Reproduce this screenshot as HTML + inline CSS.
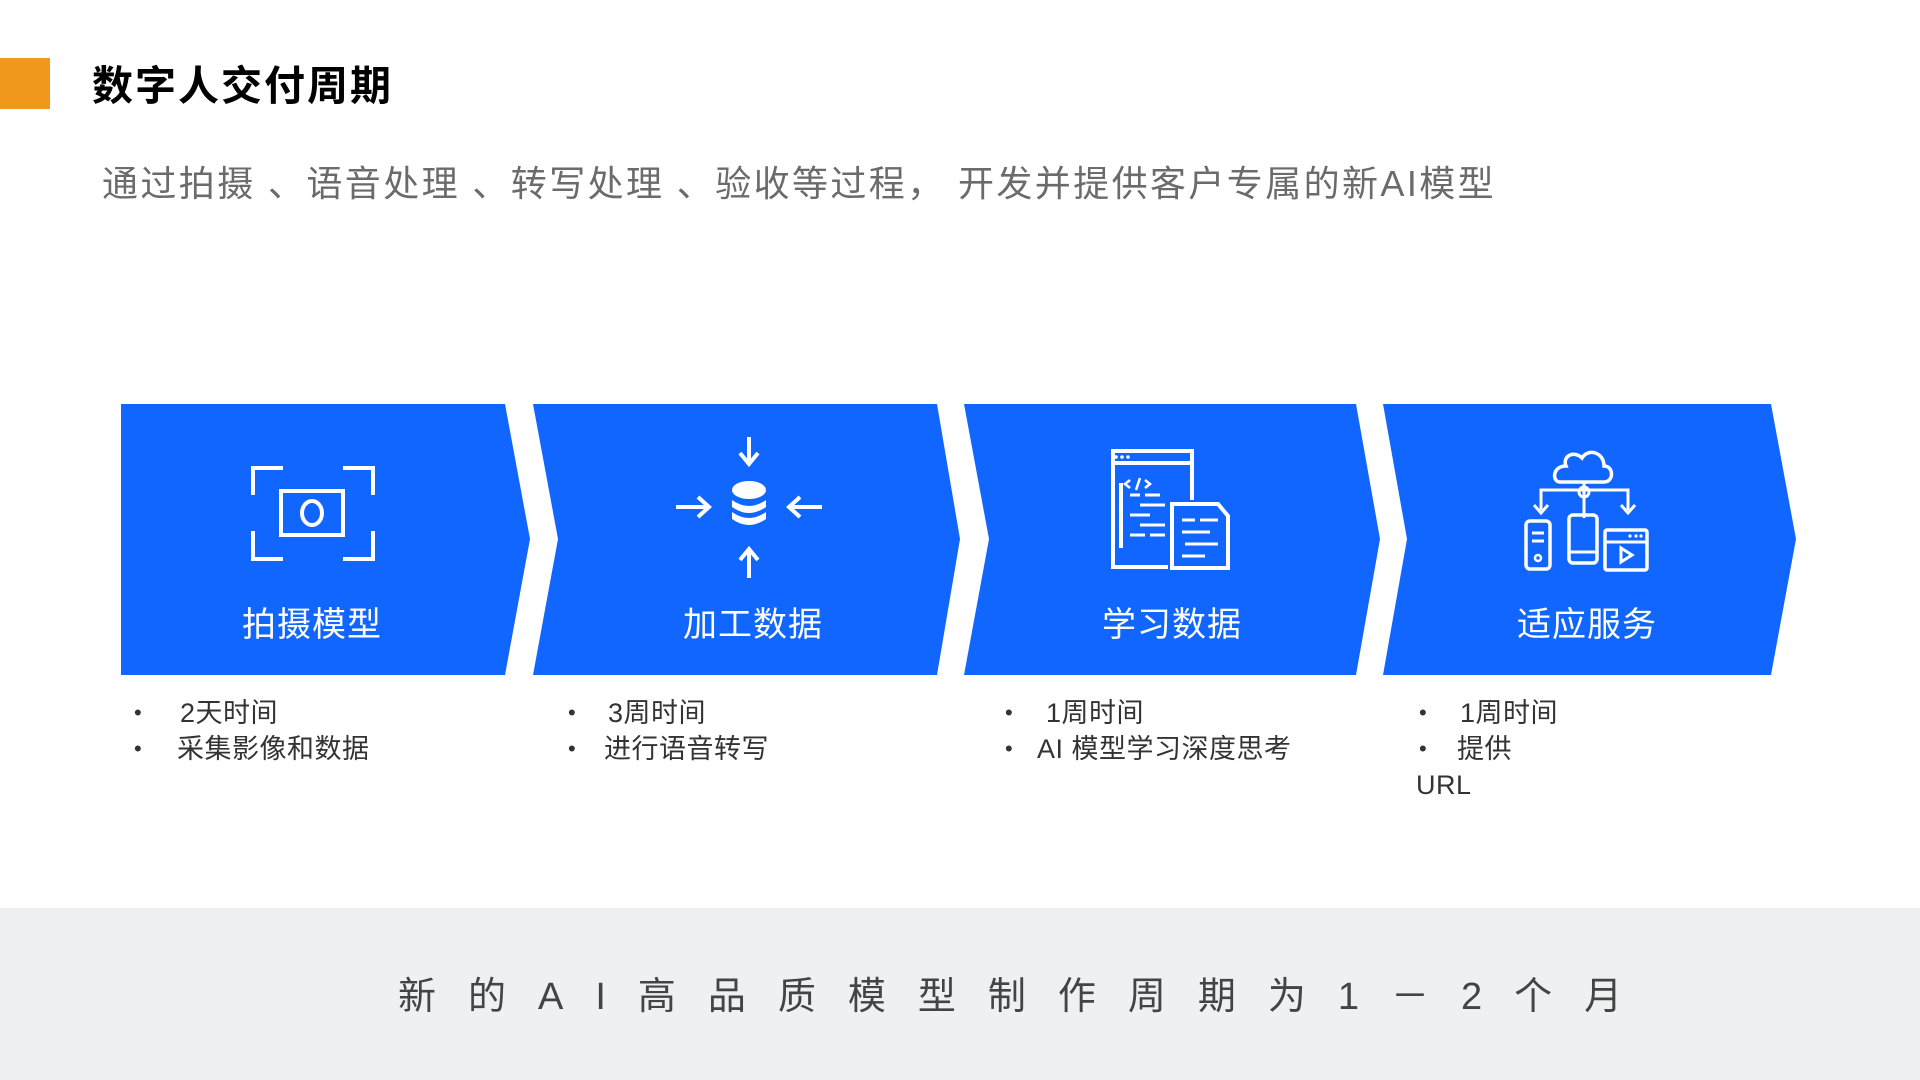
<!DOCTYPE html>
<html><head><meta charset="utf-8"><style>
*{margin:0;padding:0}
body{width:1920px;height:1080px;position:relative;background:#fff;overflow:hidden;font-family:"Liberation Sans","Noto Sans CJK SC",sans-serif}
.a{position:absolute;white-space:nowrap}
.lab{position:absolute;color:#fff;font-size:34px;top:597px;transform:translateX(-50%);letter-spacing:1px}
.li{position:absolute;font-size:27px;color:#333;line-height:35px;letter-spacing:0.5px}
.bul{position:absolute;font-size:22px;color:#333}
</style></head><body>
<div class="a" style="left:0;top:58px;width:50px;height:51px;background:#F0981C"></div>
<div class="a" style="left:92px;top:52px;font-size:41px;font-weight:bold;color:#000;letter-spacing:2px">数字人交付周期</div>
<div class="a" style="left:102px;top:155px;font-size:36px;color:#6b6b6b;letter-spacing:2.4px">通过拍摄 、语音处理 、转写处理 、验收等过程， 开发并提供客户专属的新AI模型</div>

<svg class="a" style="left:0;top:0" width="1920" height="1080">
<g fill="#1166FF">
<polygon points="121,404 505,404 530,539 505,675 121,675"/>
<polygon points="533,404 937,404 960,539 937,675 533,675 558,539"/>
<polygon points="964,404 1356,404 1380,539 1356,675 964,675 989,539"/>
<polygon points="1383,404 1771,404 1796,539 1771,675 1383,675 1407,539"/>
</g>
<g fill="none" stroke="#fff" stroke-width="4">
<path d="M253,495 V468 H283 M343,468 H373 V495 M253,531 V559 H283 M343,559 H373 V531"/>
<rect x="281" y="491" width="62" height="44"/>
<ellipse cx="312" cy="513" rx="10" ry="12"/>
<path d="M749,437 V463 M740,453 L749,464 L758,453"/>
<path d="M749,578 V550 M740,560 L749,549 L758,560"/>
<path d="M676,507 H708 M698,497 L709,507 L698,517"/>
<path d="M822,507 H790 M800,497 L789,507 L800,517"/>
<path d="M1168,567 H1113 V451 H1192 V500"/>
<path d="M1111,463 H1192 M1121,483 V548"/>
<path d="M1172,504 H1218 L1228,516 V568 H1172 Z"/>
<path d="M1130,495 H1140 M1145,495 H1160 M1140,505 H1165 M1130,515 H1150 M1140,525 H1165 M1130,535 H1145 M1150,535 H1165 M1182,520 H1195 M1200,520 H1218 M1182,532 H1210 M1185,544 H1218 M1182,556 H1205" stroke-width="3"/>
<path d="M1130,480 l-5,4 l5,4 M1140,478 l-4,12 M1145,480 l5,4 l-5,4" stroke-width="2.5"/>
<path d="M1560,482 H1604 C1614,482 1614,466 1604,466 C1604,452 1588,448 1582,458 C1574,450 1562,456 1566,466 C1552,466 1552,482 1560,482 Z" stroke-width="3.5"/>
<path d="M1584,482 V518 M1541,510 V490 H1628 V510 M1534,505 l7,8 l7,-8 M1621,505 l7,8 l7,-8" stroke-width="3"/>
<circle cx="1584" cy="492" r="5" stroke-width="3"/>
<rect x="1526" y="521" width="24" height="48" rx="4" stroke-width="3.5"/>
<rect x="1569" y="515" width="28" height="48" rx="4" stroke-width="3.5"/>
<rect x="1605" y="530" width="42" height="40" rx="2" stroke-width="3.5"/>
<path d="M1532,533 H1544 M1532,541 H1544 M1605,542 H1647 M1569,552 H1597" stroke-width="3"/>
<circle cx="1538" cy="558" r="3" stroke-width="2.5"/>
<path d="M1621,548 L1632,555 L1621,562 Z" stroke-width="3"/>
</g>
<g fill="#fff">
<ellipse cx="749" cy="490" rx="17" ry="9"/>
<path d="M732,500 Q749,512 766,500 V507 Q749,519 732,507 Z"/>
<path d="M732,512 Q749,524 766,512 V519 Q749,531 732,519 Z"/>
<circle cx="1116" cy="457" r="1.8"/><circle cx="1122" cy="457" r="1.8"/><circle cx="1128" cy="457" r="1.8"/>
<circle cx="1630" cy="536" r="1.6"/><circle cx="1636" cy="536" r="1.6"/><circle cx="1641" cy="536" r="1.6"/>
</g>
</svg>

<div class="lab" style="left:312px">拍摄模型</div>
<div class="lab" style="left:753px">加工数据</div>
<div class="lab" style="left:1172px">学习数据</div>
<div class="lab" style="left:1587px">适应服务</div>

<div class="bul" style="left:134px;top:700px">•</div><div class="bul" style="left:134px;top:736px">•</div>
<div class="li" style="left:180px;top:696px">2天时间</div>
<div class="li" style="left:177px;top:732px">采集影像和数据</div>

<div class="bul" style="left:568px;top:700px">•</div><div class="bul" style="left:568px;top:736px">•</div>
<div class="li" style="left:608px;top:696px">3周时间</div>
<div class="li" style="left:604px;top:732px">进行语音转写</div>

<div class="bul" style="left:1005px;top:700px">•</div><div class="bul" style="left:1005px;top:736px">•</div>
<div class="li" style="left:1046px;top:696px">1周时间</div>
<div class="li" style="left:1037px;top:732px">AI 模型学习深度思考</div>

<div class="bul" style="left:1419px;top:700px">•</div><div class="bul" style="left:1419px;top:736px">•</div>
<div class="li" style="left:1460px;top:696px">1周时间</div>
<div class="li" style="left:1457px;top:732px">提供</div>
<div class="li" style="left:1416px;top:768px">URL</div>

<div class="a" style="left:0;top:908px;width:1920px;height:172px;background:#EFF0F2"></div>
<div class="a" style="left:398px;top:965px;font-size:38px;color:#444;letter-spacing:32px">新的AI高品质模型制作周期为1－2个月</div>
</body></html>
